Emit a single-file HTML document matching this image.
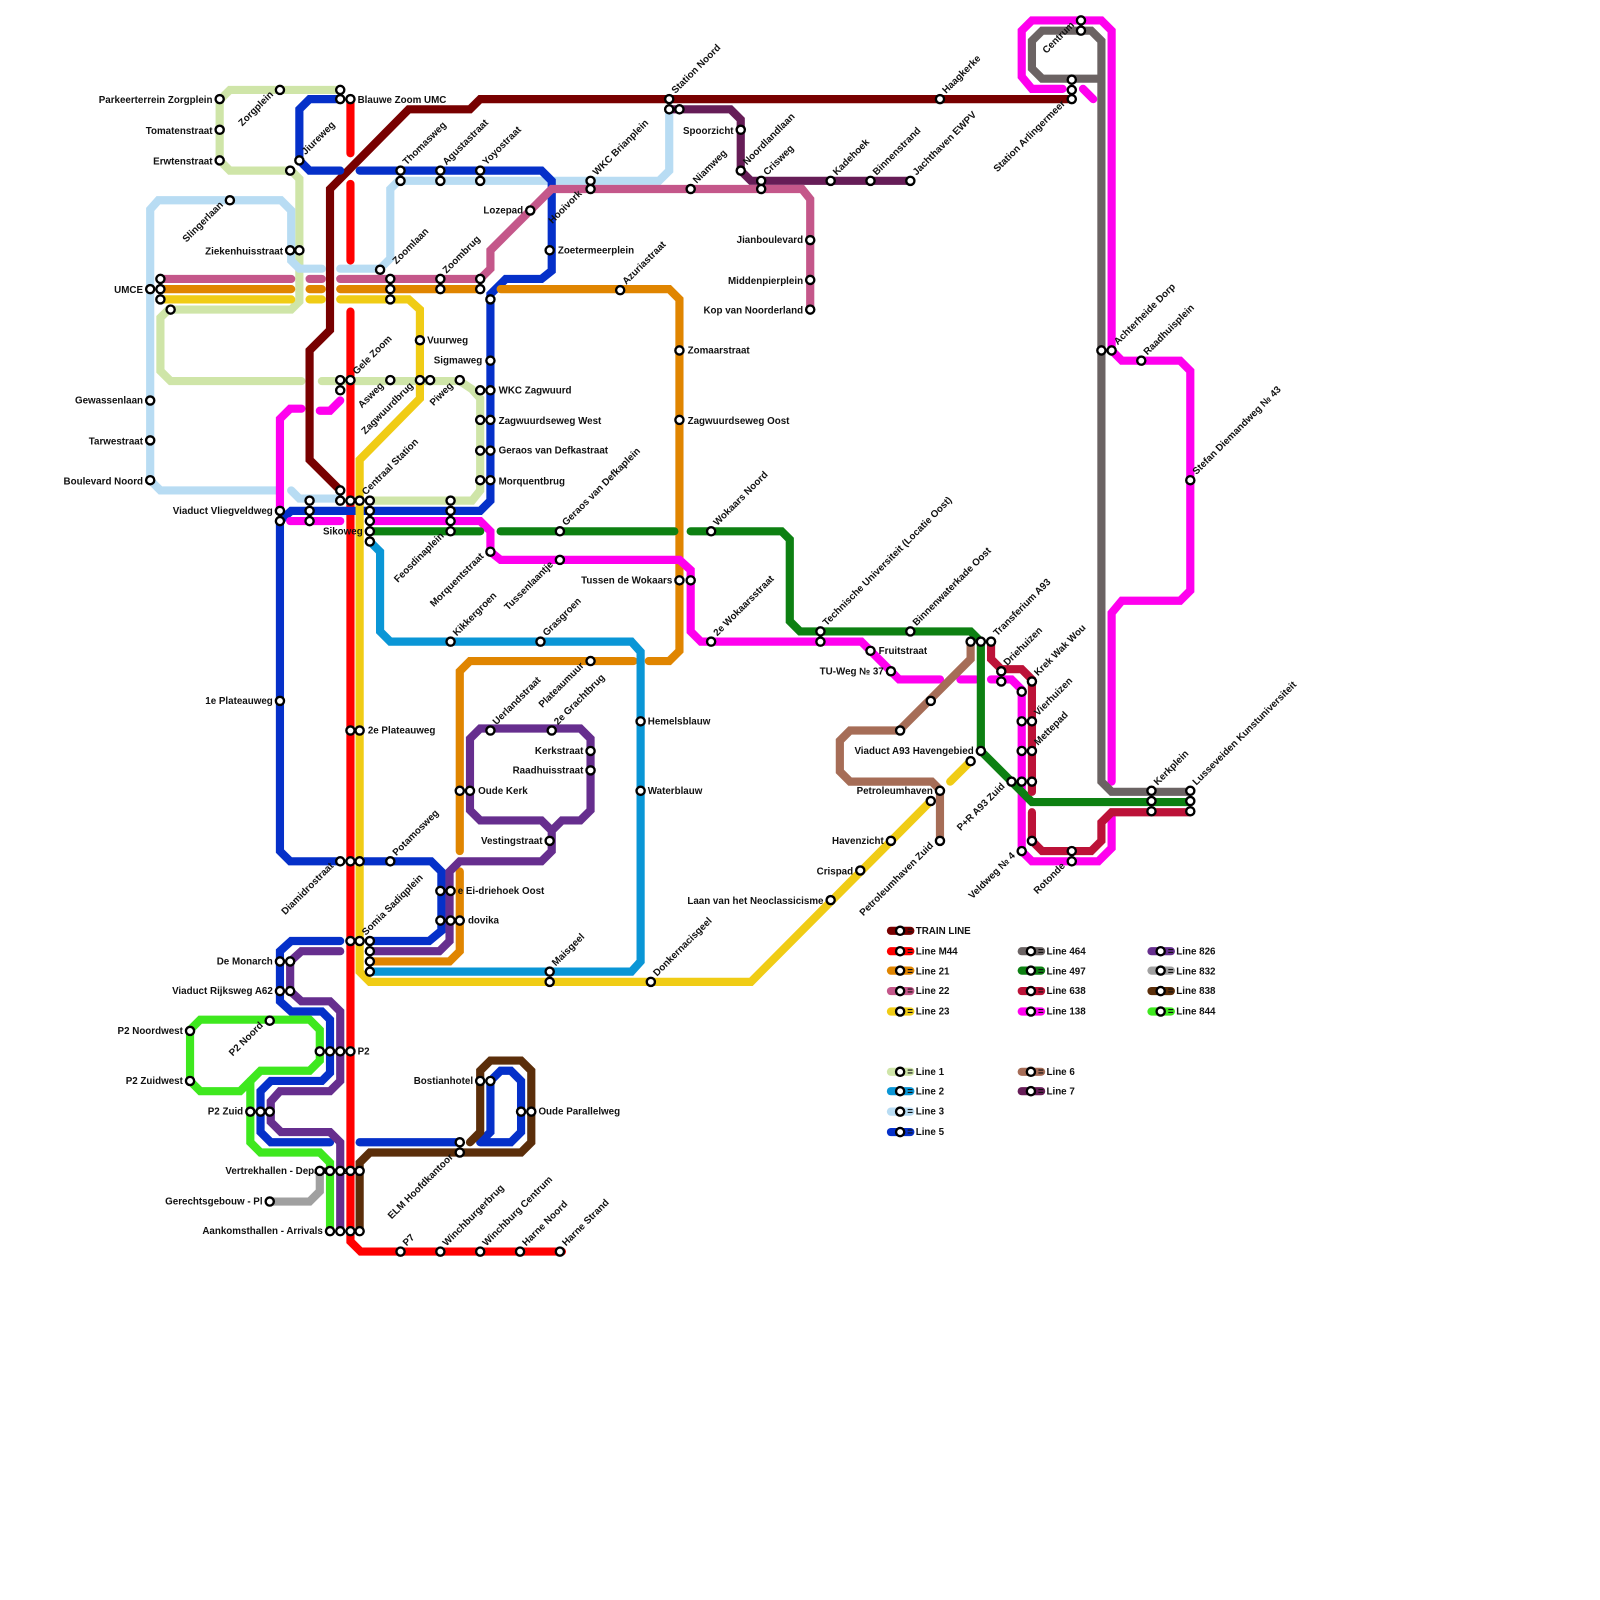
<!DOCTYPE html>
<html><head><meta charset="utf-8"><style>
html,body{margin:0;padding:0;background:#fff}
svg{display:block}
text{font-family:"Liberation Sans",sans-serif;font-weight:bold;font-size:9.6px;fill:#111}
.ln{fill:none;stroke-width:8;stroke-linecap:round;stroke-linejoin:miter}
circle.s{fill:#fff;stroke:#000;stroke-width:2.3}
.e{text-anchor:end}
</style></head><body>
<svg width="1600" height="1600" viewBox="0 0 1566 1566" xmlns="http://www.w3.org/2000/svg">
<!-- Line 1 -->
<g class="ln" stroke="#cfe5a8">
<polyline points="333,88 225,88 215,98 215,157 225,167 285,167 293,175 293,295 285,303 165,303 157,311 157,363 167,373 295,373"/>
<polyline points="315,373 450,373 462,381 470,390 470,480 462,490 362,490"/>
</g>
<!-- Line 3 -->
<g class="ln" stroke="#b8dcf3">
<polyline points="270,480 157,480 147,470 147,205 155,196 275,196 285,206 285,255 293,263 315,263"/>
<polyline points="333,263 372,263 382,253 382,185 390,177 645,177 655,167 655,108"/>
<polyline points="285,480 293,488 333,488"/>
</g>
<!-- Train -->
<polyline class="ln" stroke="#780000" points="1045,97 470,97 460,107 400,107 323,185 323,323 303,343 303,450 333,480"/>
<!-- M44 -->
<g class="ln" stroke="#ff0000">
<polyline points="343,100 343,150"/><polyline points="343,180 343,255"/>
<polyline points="343,305 343,1215 353,1225 550,1225"/>
</g>
<!-- Line 5 -->
<g class="ln" stroke="#0530c9">
<polyline points="333,97 303,97 293,107 293,157 303,167 333,167"/>
<polyline points="352,167 530,167 540,177 540,265 530,273 495,273 480,288 480,490 470,500 285,500 274,510 274,833 284,843 333,843"/>
<polyline points="352,843 422,843 432,853 432,911 420,921 362,921"/>
<polyline points="333,921 285,921 274,931 274,980 285,990 315,990 323,998 323,1050 315,1058 265,1058 255,1068 255,1108 265,1118 323,1118"/>
<polyline points="352,1118 450,1118"/>
<polyline points="470,1118 480,1108 480,1058 490,1048 500,1048 510,1058 510,1108 500,1118 470,1118"/>
</g>
<!-- Line 7 -->
<polyline class="ln" stroke="#661d57" points="655,107 715,107 725,117 725,167 735,177 890,177"/>
<!-- Line 22 -->
<g class="ln" stroke="#c4578a">
<polyline points="157,273 285,273"/><polyline points="303,273 315,273"/>
<polyline points="333,273 470,273 480,263 480,245 540,185 785,185 793,195 793,303"/>
</g>
<!-- Line 21 -->
<g class="ln" stroke="#e08500">
<polyline points="157,283 285,283"/><polyline points="303,283 315,283"/>
<polyline points="333,283 470,283"/>
<polyline points="490,283 655,283 665,293 665,637 655,647 635,647"/>
<polyline points="620,647 460,647 450,657 450,833"/>
<polyline points="450,853 450,931 440,941 362,941"/>
</g>
<!-- Line 23 -->
<g class="ln" stroke="#f0cc15">
<polyline points="157,293 285,293"/><polyline points="303,293 315,293"/>
<polyline points="333,293 400,293 411,303 411,390 352,450 352,951 362,961 735,961 910,785"/>
<polyline points="930,765 950,745"/>
</g>
<!-- Line 2 -->
<polyline class="ln" stroke="#0a96d6" points="362,530 372,540 372,618 382,628 618,628 627,638 627,941 618,951 362,951"/>
<!-- Line 138 -->
<g class="ln" stroke="#ff00ee">
<polyline points="274,500 274,410 284,400 295,400"/>
<polyline points="313,402 323,402 333,392"/>
<polyline points="284,510 333,510"/>
<polyline points="362,510 470,510 480,520 480,540 490,548 665,548 676,558 676,618 686,628 843,628 880,665 920,665"/>
<polyline points="940,665 955,665"/>
<polyline points="970,665 990,665 1000,675 1000,833 1010,843 1075,843 1088,830 1088,800"/>
<polyline points="1088,765 1088,600 1098,588 1155,588 1165,578 1165,363 1155,353 1098,353 1088,343 1088,30 1078,20 1010,20 1000,30 1000,75 1010,87 1040,87"/>
<polyline points="1060,87 1070,97"/>
</g>
<!-- Line 464 -->
<g class="ln" stroke="#6b6363">
<polyline points="1078,77 1020,77 1010,67 1010,40 1020,30 1068,30 1078,40 1078,765 1088,775 1165,775"/>
</g>
<!-- Line 497 -->
<g class="ln" stroke="#0d8012">
<polyline points="362,520 470,520"/>
<polyline points="490,520 660,520"/>
<polyline points="676,520 765,520 773,528 773,608 783,618 950,618 960,628 960,735 1010,785 1165,785"/>
</g>
<!-- Line 638 -->
<g class="ln" stroke="#bc1238">
<polyline points="970,628 970,645 980,655 1000,655 1010,665 1010,775"/>
<polyline points="1010,795 1010,823 1020,833 1068,833 1078,823 1078,805 1088,795 1165,795"/>
</g>
<!-- Line 6 -->
<polyline class="ln" stroke="#a66d57" points="950,628 950,645 880,715 832,715 822,725 822,755 832,765 912,765 920,773 920,823"/>
<!-- Line 826 -->
<g class="ln" stroke="#662e8e">
<polyline points="333,931 295,931 284,941 284,970 295,980 323,980 333,990 333,1058 323,1068 274,1068 265,1078 265,1098 275,1108 323,1108 333,1118 333,1205"/>
<polyline points="362,931 430,931 440,921 440,853 450,843 530,843 540,833 540,813 550,803 568,803 578,793 578,723 568,713 470,713 460,723 460,793 470,803 530,803 540,813"/>
</g>
<!-- Line 844 -->
<g class="ln" stroke="#3ee81e">
<polyline points="186,1008 196,998 303,998 313,1008 313,1038 303,1048 255,1048 235,1068 196,1068 186,1058 186,1008"/>
<polyline points="245,1058 245,1118 255,1128 313,1128 323,1138 323,1205"/>
</g>
<!-- Line 832 -->
<polyline class="ln" stroke="#a0a0a0" points="264,1176 303,1176 313,1166 313,1146"/>
<!-- Line 838 -->
<polyline class="ln" stroke="#5b2e0a" points="352,1205 352,1138 362,1128 510,1128 520,1118 520,1048 510,1038 480,1038 470,1048 470,1108 460,1118"/>

<!-- Legend pills -->
<g class="ln" style="stroke-linecap:round">
<line x1="872" y1="911" x2="891" y2="911" stroke="#780000"/>
<line x1="872" y1="931" x2="891" y2="931" stroke="#ff0000"/>
<line x1="872" y1="950" x2="891" y2="950" stroke="#e08500"/>
<line x1="872" y1="970" x2="891" y2="970" stroke="#c4578a"/>
<line x1="872" y1="990" x2="891" y2="990" stroke="#f0cc15"/>
<line x1="872" y1="1049" x2="891" y2="1049" stroke="#cfe5a8"/>
<line x1="872" y1="1068" x2="891" y2="1068" stroke="#0a96d6"/>
<line x1="872" y1="1088" x2="891" y2="1088" stroke="#b8dcf3"/>
<line x1="872" y1="1108" x2="891" y2="1108" stroke="#0530c9"/>
<line x1="1000" y1="931" x2="1019" y2="931" stroke="#6b6363"/>
<line x1="1000" y1="950" x2="1019" y2="950" stroke="#0d8012"/>
<line x1="1000" y1="970" x2="1019" y2="970" stroke="#bc1238"/>
<line x1="1000" y1="990" x2="1019" y2="990" stroke="#ff00ee"/>
<line x1="1000" y1="1049" x2="1019" y2="1049" stroke="#a66d57"/>
<line x1="1000" y1="1068" x2="1019" y2="1068" stroke="#661d57"/>
<line x1="1127" y1="931" x2="1146" y2="931" stroke="#662e8e"/>
<line x1="1127" y1="950" x2="1146" y2="950" stroke="#a0a0a0"/>
<line x1="1127" y1="970" x2="1146" y2="970" stroke="#5b2e0a"/>
<line x1="1127" y1="990" x2="1146" y2="990" stroke="#3ee81e"/>
</g>
<g>
<text x="888" y="914">= TRAIN LINE</text>
<text x="888" y="934">= Line M44</text>
<text x="888" y="954">= Line 21</text>
<text x="888" y="973">= Line 22</text>
<text x="888" y="993">= Line 23</text>
<text x="888" y="1052">= Line 1</text>
<text x="888" y="1071">= Line 2</text>
<text x="888" y="1091">= Line 3</text>
<text x="888" y="1111">= Line 5</text>
<text x="1016" y="934">= Line 464</text>
<text x="1016" y="954">= Line 497</text>
<text x="1016" y="973">= Line 638</text>
<text x="1016" y="993">= Line 138</text>
<text x="1016" y="1052">= Line 6</text>
<text x="1016" y="1071">= Line 7</text>
<text x="1143" y="934">= Line 826</text>
<text x="1143" y="954">= Line 832</text>
<text x="1143" y="973">= Line 838</text>
<text x="1143" y="993">= Line 844</text>
</g>

<!-- Horizontal labels -->
<g>
<text class="e" x="208" y="101">Parkeerterrein Zorgplein</text>
<text class="e" x="208" y="131">Tomatenstraat</text>
<text class="e" x="208" y="161">Erwtenstraat</text>
<text x="350" y="101">Blauwe Zoom UMC</text>
<text class="e" x="277" y="249">Ziekenhuisstraat</text>
<text class="e" x="140" y="287">UMCE</text>
<text class="e" x="512" y="209">Lozepad</text>
<text class="e" x="718" y="131">Spoorzicht</text>
<text class="e" x="786" y="238">Jianboulevard</text>
<text class="e" x="786" y="278">Middenpierplein</text>
<text class="e" x="786" y="307">Kop van Noorderland</text>
<text x="546" y="248">Zoetermeerplein</text>
<text x="418" y="336">Vuurweg</text>
<text class="e" x="472" y="356">Sigmaweg</text>
<text x="488" y="385">WKC Zagwuurd</text>
<text x="488" y="415">Zagwuurdseweg West</text>
<text x="488" y="444">Geraos van Defkastraat</text>
<text x="488" y="474">Morquentbrug</text>
<text x="673" y="346">Zomaarstraat</text>
<text x="673" y="415">Zagwuurdseweg Oost</text>
<text class="e" x="140" y="395">Gewassenlaan</text>
<text class="e" x="140" y="435">Tarwestraat</text>
<text class="e" x="140" y="474">Boulevard Noord</text>
<text class="e" x="267" y="503">Viaduct Vliegveldweg</text>
<text class="e" x="355" y="523">Sikoweg</text>
<text class="e" x="658" y="571">Tussen de Wokaars</text>
<text x="634" y="709">Hemelsblauw</text>
<text x="634" y="777">Waterblauw</text>
<text class="e" x="267" y="689">1e Plateauweg</text>
<text x="360" y="718">2e Plateauweg</text>
<text class="e" x="571" y="738">Kerkstraat</text>
<text class="e" x="571" y="757">Raadhuisstraat</text>
<text x="468" y="777">Oude Kerk</text>
<text class="e" x="531" y="826">Vestingstraat</text>
<text x="448" y="875">e Ei-driehoek Oost</text>
<text x="458" y="904">dovika</text>
<text class="e" x="267" y="944">De Monarch</text>
<text class="e" x="267" y="973">Viaduct Rijksweg A62</text>
<text class="e" x="179" y="1012">P2 Noordwest</text>
<text class="e" x="179" y="1061">P2 Zuidwest</text>
<text x="350" y="1032">P2</text>
<text class="e" x="238" y="1091">P2 Zuid</text>
<text class="e" x="463" y="1061">Bostianhotel</text>
<text x="527" y="1091">Oude Parallelweg</text>
<text class="e" x="340" y="1149">Vertrekhallen - Departures</text>
<text class="e" x="257" y="1179">Gerechtsgebouw - Pl</text>
<text class="e" x="316" y="1208">Aankomsthallen - Arrivals</text>
<text x="860" y="640">Fruitstraat</text>
<text class="e" x="865" y="660">TU-Weg № 37</text>
<text class="e" x="953" y="738">Viaduct A93 Havengebied</text>
<text class="e" x="913" y="777">Petroleumhaven</text>
<text class="e" x="865" y="826">Havenzicht</text>
<text class="e" x="835" y="856">Crispad</text>
<text class="e" x="806" y="885">Laan van het Neoclassicisme</text>
</g>

<!-- Rotated labels: up-right -->
<g>
<text transform="translate(299,152) rotate(-45)">Jiureweg</text>
<text transform="translate(398,162) rotate(-45)">Thomasweg</text>
<text transform="translate(437,162) rotate(-45)">Agustastraat</text>
<text transform="translate(476,162) rotate(-45)">Yoyostraat</text>
<text transform="translate(584,172) rotate(-45)">WKC Brianplein</text>
<text transform="translate(661,92) rotate(-45)">Station Noord</text>
<text transform="translate(682,180) rotate(-45)">Niamweg</text>
<text transform="translate(731,162) rotate(-45)">Noordlandlaan</text>
<text transform="translate(751,172) rotate(-45)">Crisweg</text>
<text transform="translate(819,172) rotate(-45)">Kadehoek</text>
<text transform="translate(858,172) rotate(-45)">Binnenstrand</text>
<text transform="translate(897,172) rotate(-45)">Jachthaven EWPV</text>
<text transform="translate(926,92) rotate(-45)">Haagkerke</text>
<text transform="translate(613,279) rotate(-45)">Azuriastraat</text>
<text transform="translate(388,259) rotate(-45)">Zoomlaan</text>
<text transform="translate(437,268) rotate(-45)">Zoombrug</text>
<text transform="translate(349,367) rotate(-45)">Gele Zoom</text>
<text transform="translate(358,485) rotate(-45)">Centraal Station</text>
<text transform="translate(554,515) rotate(-45)">Geraos van Defkaplein</text>
<text transform="translate(702,515) rotate(-45)">Wokaars Noord</text>
<text transform="translate(702,623) rotate(-45)">2e Wokaarsstraat</text>
<text transform="translate(447,623) rotate(-45)">Kikkergroen</text>
<text transform="translate(535,623) rotate(-45)">Grasgroen</text>
<text transform="translate(486,710) rotate(-45)">Uerlandstraat</text>
<text transform="translate(546,710) rotate(-45)">2e Grachtbrug</text>
<text transform="translate(388,838) rotate(-45)">Potamosweg</text>
<text transform="translate(358,916) rotate(-45)">Somia Sadiqplein</text>
<text transform="translate(544,946) rotate(-45)">Maisgeel</text>
<text transform="translate(643,956) rotate(-45)">Donkernacisgeel</text>
<text transform="translate(398,1220) rotate(-45)">P7</text>
<text transform="translate(437,1220) rotate(-45)">Winchburgerbrug</text>
<text transform="translate(476,1220) rotate(-45)">Winchburg Centrum</text>
<text transform="translate(515,1220) rotate(-45)">Harne Noord</text>
<text transform="translate(554,1220) rotate(-45)">Harne Strand</text>
<text transform="translate(809,613) rotate(-45)">Technische Universiteit (Locatie Oost)</text>
<text transform="translate(897,613) rotate(-45)">Binnenwaterkade Oost</text>
<text transform="translate(976,623) rotate(-45)">Transferium A93</text>
<text transform="translate(986,652) rotate(-45)">Driehuizen</text>
<text transform="translate(1016,662) rotate(-45)">Krek Wak Wou</text>
<text transform="translate(1016,701) rotate(-45)">Vierhuizen</text>
<text transform="translate(1016,730) rotate(-45)">Mettepad</text>
<text transform="translate(1133,769) rotate(-45)">Kerkplein</text>
<text transform="translate(1171,769) rotate(-45)">Lusseveiden Kunstuniversiteit</text>
<text transform="translate(1094,338) rotate(-45)">Achterheide Dorp</text>
<text transform="translate(1123,348) rotate(-45)">Raadhuisplein</text>
<text transform="translate(1171,465) rotate(-45)">Stefan Diemandweg № 43</text>
</g>
<!-- Rotated labels: lower-left -->
<g class="e">
<text class="e" transform="translate(268,93) rotate(-45)">Zorgplein</text>
<text class="e" transform="translate(219,201) rotate(-45)">Slingerlaan</text>
<text class="e" transform="translate(570,190) rotate(-45)">Hooivork</text>
<text class="e" transform="translate(376,378) rotate(-45)">Asweg</text>
<text class="e" transform="translate(405,378) rotate(-45)">Zagwuurdbrug</text>
<text class="e" transform="translate(444,378) rotate(-45)">Piweg</text>
<text class="e" transform="translate(435,525) rotate(-45)">Feosdinaplein</text>
<text class="e" transform="translate(474,545) rotate(-45)">Morquentstraat</text>
<text class="e" transform="translate(542,553) rotate(-45)">Tussenlaantje</text>
<text class="e" transform="translate(572,652) rotate(-45)">Plateaumuur</text>
<text class="e" transform="translate(327,848) rotate(-45)">Diamidrostraat</text>
<text class="e" transform="translate(258,1004) rotate(-45)">P2 Noord</text>
<text class="e" transform="translate(444,1133) rotate(-45)">ELM Hoofdkantoor</text>
<text class="e" transform="translate(914,828) rotate(-45)">Petroleumhaven Zuid</text>
<text class="e" transform="translate(984,770) rotate(-45)">P+R A93 Zuid</text>
<text class="e" transform="translate(994,838) rotate(-45)">Veldweg № 4</text>
<text class="e" transform="translate(1043,848) rotate(-45)">Rotonde</text>
<text class="e" transform="translate(1052,25) rotate(-45)">Centrum</text>
<text class="e" transform="translate(1043,102) rotate(-45)">Station Arlingermeer</text>
</g>

<!-- Stations -->
<g>
<circle class="s" r="4" cx="215" cy="97"/><circle class="s" r="4" cx="215" cy="127"/><circle class="s" r="4" cx="215" cy="157"/>
<circle class="s" r="4" cx="274" cy="88"/><circle class="s" r="4" cx="333" cy="88"/><circle class="s" r="4" cx="333" cy="97"/><circle class="s" r="4" cx="343" cy="97"/>
<circle class="s" r="4" cx="293" cy="157"/><circle class="s" r="4" cx="284" cy="167"/><circle class="s" r="4" cx="225" cy="196"/>
<circle class="s" r="4" cx="284" cy="245"/><circle class="s" r="4" cx="293" cy="245"/>
<circle class="s" r="4" cx="147" cy="283"/><circle class="s" r="4" cx="157" cy="273"/><circle class="s" r="4" cx="157" cy="283"/><circle class="s" r="4" cx="157" cy="293"/><circle class="s" r="4" cx="167" cy="303"/>
<circle class="s" r="4" cx="392" cy="167"/><circle class="s" r="4" cx="392" cy="177"/><circle class="s" r="4" cx="431" cy="167"/><circle class="s" r="4" cx="431" cy="177"/><circle class="s" r="4" cx="470" cy="167"/><circle class="s" r="4" cx="470" cy="177"/>
<circle class="s" r="4" cx="519" cy="206"/><circle class="s" r="4" cx="578" cy="177"/><circle class="s" r="4" cx="578" cy="185"/>
<circle class="s" r="4" cx="655" cy="97"/><circle class="s" r="4" cx="655" cy="107"/><circle class="s" r="4" cx="665" cy="107"/>
<circle class="s" r="4" cx="725" cy="127"/><circle class="s" r="4" cx="725" cy="167"/><circle class="s" r="4" cx="745" cy="177"/><circle class="s" r="4" cx="745" cy="185"/><circle class="s" r="4" cx="676" cy="185"/>
<circle class="s" r="4" cx="813" cy="177"/><circle class="s" r="4" cx="852" cy="177"/><circle class="s" r="4" cx="891" cy="177"/><circle class="s" r="4" cx="920" cy="97"/>
<circle class="s" r="4" cx="793" cy="235"/><circle class="s" r="4" cx="793" cy="274"/><circle class="s" r="4" cx="793" cy="303"/>
<circle class="s" r="4" cx="538" cy="245"/><circle class="s" r="4" cx="607" cy="284"/>
<circle class="s" r="4" cx="372" cy="264"/><circle class="s" r="4" cx="382" cy="273"/><circle class="s" r="4" cx="382" cy="283"/><circle class="s" r="4" cx="382" cy="293"/>
<circle class="s" r="4" cx="431" cy="273"/><circle class="s" r="4" cx="431" cy="283"/><circle class="s" r="4" cx="470" cy="273"/><circle class="s" r="4" cx="470" cy="283"/><circle class="s" r="4" cx="480" cy="293"/>
<circle class="s" r="4" cx="411" cy="333"/><circle class="s" r="4" cx="480" cy="353"/>
<circle class="s" r="4" cx="333" cy="372"/><circle class="s" r="4" cx="333" cy="382"/><circle class="s" r="4" cx="343" cy="372"/><circle class="s" r="4" cx="382" cy="372"/><circle class="s" r="4" cx="411" cy="372"/><circle class="s" r="4" cx="421" cy="372"/><circle class="s" r="4" cx="450" cy="372"/>
<circle class="s" r="4" cx="470" cy="382"/><circle class="s" r="4" cx="480" cy="382"/><circle class="s" r="4" cx="470" cy="411"/><circle class="s" r="4" cx="480" cy="411"/><circle class="s" r="4" cx="470" cy="441"/><circle class="s" r="4" cx="480" cy="441"/><circle class="s" r="4" cx="470" cy="470"/><circle class="s" r="4" cx="480" cy="470"/>
<circle class="s" r="4" cx="665" cy="343"/><circle class="s" r="4" cx="665" cy="411"/>
<circle class="s" r="4" cx="147" cy="392"/><circle class="s" r="4" cx="147" cy="431"/><circle class="s" r="4" cx="147" cy="470"/>
<circle class="s" r="4" cx="274" cy="500"/><circle class="s" r="4" cx="274" cy="510"/><circle class="s" r="4" cx="303" cy="490"/><circle class="s" r="4" cx="303" cy="500"/><circle class="s" r="4" cx="303" cy="510"/>
<circle class="s" r="4" cx="333" cy="480"/><circle class="s" r="4" cx="333" cy="490"/><circle class="s" r="4" cx="343" cy="490"/><circle class="s" r="4" cx="352" cy="490"/>
<circle class="s" r="4" cx="362" cy="490"/><circle class="s" r="4" cx="362" cy="500"/><circle class="s" r="4" cx="362" cy="510"/><circle class="s" r="4" cx="362" cy="520"/><circle class="s" r="4" cx="362" cy="530"/>
<circle class="s" r="4" cx="441" cy="490"/><circle class="s" r="4" cx="441" cy="500"/><circle class="s" r="4" cx="441" cy="510"/><circle class="s" r="4" cx="441" cy="520"/>
<circle class="s" r="4" cx="480" cy="540"/><circle class="s" r="4" cx="548" cy="520"/><circle class="s" r="4" cx="548" cy="548"/>
<circle class="s" r="4" cx="696" cy="520"/><circle class="s" r="4" cx="665" cy="568"/><circle class="s" r="4" cx="676" cy="568"/><circle class="s" r="4" cx="696" cy="628"/>
<circle class="s" r="4" cx="441" cy="628"/><circle class="s" r="4" cx="529" cy="628"/><circle class="s" r="4" cx="578" cy="647"/>
<circle class="s" r="4" cx="627" cy="706"/><circle class="s" r="4" cx="627" cy="774"/>
<circle class="s" r="4" cx="274" cy="686"/><circle class="s" r="4" cx="343" cy="715"/><circle class="s" r="4" cx="352" cy="715"/>
<circle class="s" r="4" cx="480" cy="715"/><circle class="s" r="4" cx="540" cy="715"/><circle class="s" r="4" cx="578" cy="735"/><circle class="s" r="4" cx="578" cy="754"/>
<circle class="s" r="4" cx="450" cy="774"/><circle class="s" r="4" cx="460" cy="774"/><circle class="s" r="4" cx="538" cy="823"/>
<circle class="s" r="4" cx="333" cy="843"/><circle class="s" r="4" cx="343" cy="843"/><circle class="s" r="4" cx="352" cy="843"/><circle class="s" r="4" cx="382" cy="843"/>
<circle class="s" r="4" cx="431" cy="872"/><circle class="s" r="4" cx="441" cy="872"/><circle class="s" r="4" cx="431" cy="901"/><circle class="s" r="4" cx="441" cy="901"/><circle class="s" r="4" cx="450" cy="901"/>
<circle class="s" r="4" cx="343" cy="921"/><circle class="s" r="4" cx="352" cy="921"/><circle class="s" r="4" cx="362" cy="921"/><circle class="s" r="4" cx="362" cy="931"/><circle class="s" r="4" cx="362" cy="941"/><circle class="s" r="4" cx="362" cy="951"/>
<circle class="s" r="4" cx="538" cy="951"/><circle class="s" r="4" cx="538" cy="961"/><circle class="s" r="4" cx="637" cy="961"/>
<circle class="s" r="4" cx="274" cy="941"/><circle class="s" r="4" cx="284" cy="941"/><circle class="s" r="4" cx="274" cy="970"/><circle class="s" r="4" cx="284" cy="970"/>
<circle class="s" r="4" cx="186" cy="1009"/><circle class="s" r="4" cx="186" cy="1058"/><circle class="s" r="4" cx="264" cy="999"/>
<circle class="s" r="4" cx="313" cy="1029"/><circle class="s" r="4" cx="323" cy="1029"/><circle class="s" r="4" cx="333" cy="1029"/><circle class="s" r="4" cx="343" cy="1029"/>
<circle class="s" r="4" cx="245" cy="1088"/><circle class="s" r="4" cx="255" cy="1088"/><circle class="s" r="4" cx="264" cy="1088"/>
<circle class="s" r="4" cx="470" cy="1058"/><circle class="s" r="4" cx="480" cy="1058"/><circle class="s" r="4" cx="510" cy="1088"/><circle class="s" r="4" cx="520" cy="1088"/>
<circle class="s" r="4" cx="450" cy="1118"/><circle class="s" r="4" cx="450" cy="1128"/>
<circle class="s" r="4" cx="313" cy="1146"/><circle class="s" r="4" cx="323" cy="1146"/><circle class="s" r="4" cx="333" cy="1146"/><circle class="s" r="4" cx="343" cy="1146"/><circle class="s" r="4" cx="352" cy="1146"/>
<circle class="s" r="4" cx="264" cy="1176"/>
<circle class="s" r="4" cx="323" cy="1205"/><circle class="s" r="4" cx="333" cy="1205"/><circle class="s" r="4" cx="343" cy="1205"/><circle class="s" r="4" cx="352" cy="1205"/>
<circle class="s" r="4" cx="392" cy="1225"/><circle class="s" r="4" cx="431" cy="1225"/><circle class="s" r="4" cx="470" cy="1225"/><circle class="s" r="4" cx="509" cy="1225"/><circle class="s" r="4" cx="548" cy="1225"/>
<circle class="s" r="4" cx="803" cy="618"/><circle class="s" r="4" cx="803" cy="628"/><circle class="s" r="4" cx="891" cy="618"/><circle class="s" r="4" cx="852" cy="637"/><circle class="s" r="4" cx="872" cy="657"/>
<circle class="s" r="4" cx="911" cy="686"/><circle class="s" r="4" cx="881" cy="715"/><circle class="s" r="4" cx="960" cy="735"/><circle class="s" r="4" cx="950" cy="745"/>
<circle class="s" r="4" cx="920" cy="774"/><circle class="s" r="4" cx="911" cy="784"/><circle class="s" r="4" cx="920" cy="823"/><circle class="s" r="4" cx="872" cy="823"/><circle class="s" r="4" cx="842" cy="852"/><circle class="s" r="4" cx="813" cy="881"/>
<circle class="s" r="4" cx="950" cy="628"/><circle class="s" r="4" cx="960" cy="628"/><circle class="s" r="4" cx="970" cy="628"/>
<circle class="s" r="4" cx="980" cy="657"/><circle class="s" r="4" cx="980" cy="667"/><circle class="s" r="4" cx="1010" cy="667"/><circle class="s" r="4" cx="1000" cy="677"/>
<circle class="s" r="4" cx="1000" cy="706"/><circle class="s" r="4" cx="1010" cy="706"/><circle class="s" r="4" cx="1000" cy="735"/><circle class="s" r="4" cx="1010" cy="735"/>
<circle class="s" r="4" cx="990" cy="765"/><circle class="s" r="4" cx="1000" cy="765"/><circle class="s" r="4" cx="1010" cy="765"/>
<circle class="s" r="4" cx="1000" cy="833"/><circle class="s" r="4" cx="1010" cy="823"/><circle class="s" r="4" cx="1049" cy="833"/><circle class="s" r="4" cx="1049" cy="843"/>
<circle class="s" r="4" cx="1127" cy="774"/><circle class="s" r="4" cx="1127" cy="784"/><circle class="s" r="4" cx="1127" cy="794"/>
<circle class="s" r="4" cx="1165" cy="774"/><circle class="s" r="4" cx="1165" cy="784"/><circle class="s" r="4" cx="1165" cy="794"/>
<circle class="s" r="4" cx="1078" cy="343"/><circle class="s" r="4" cx="1088" cy="343"/><circle class="s" r="4" cx="1117" cy="353"/><circle class="s" r="4" cx="1165" cy="470"/>
<circle class="s" r="4" cx="1058" cy="20"/><circle class="s" r="4" cx="1058" cy="30"/>
<circle class="s" r="4" cx="1049" cy="78"/><circle class="s" r="4" cx="1049" cy="88"/><circle class="s" r="4" cx="1049" cy="97"/>
<!-- legend circles -->
<circle class="s" r="4" cx="881" cy="911"/><circle class="s" r="4" cx="881" cy="931"/><circle class="s" r="4" cx="881" cy="950"/><circle class="s" r="4" cx="881" cy="970"/><circle class="s" r="4" cx="881" cy="990"/>
<circle class="s" r="4" cx="881" cy="1049"/><circle class="s" r="4" cx="881" cy="1068"/><circle class="s" r="4" cx="881" cy="1088"/><circle class="s" r="4" cx="881" cy="1108"/>
<circle class="s" r="4" cx="1009" cy="931"/><circle class="s" r="4" cx="1009" cy="950"/><circle class="s" r="4" cx="1009" cy="970"/><circle class="s" r="4" cx="1009" cy="990"/>
<circle class="s" r="4" cx="1009" cy="1049"/><circle class="s" r="4" cx="1009" cy="1068"/>
<circle class="s" r="4" cx="1136" cy="931"/><circle class="s" r="4" cx="1136" cy="950"/><circle class="s" r="4" cx="1136" cy="970"/><circle class="s" r="4" cx="1136" cy="990"/>
</g>
</svg>
</body></html>
